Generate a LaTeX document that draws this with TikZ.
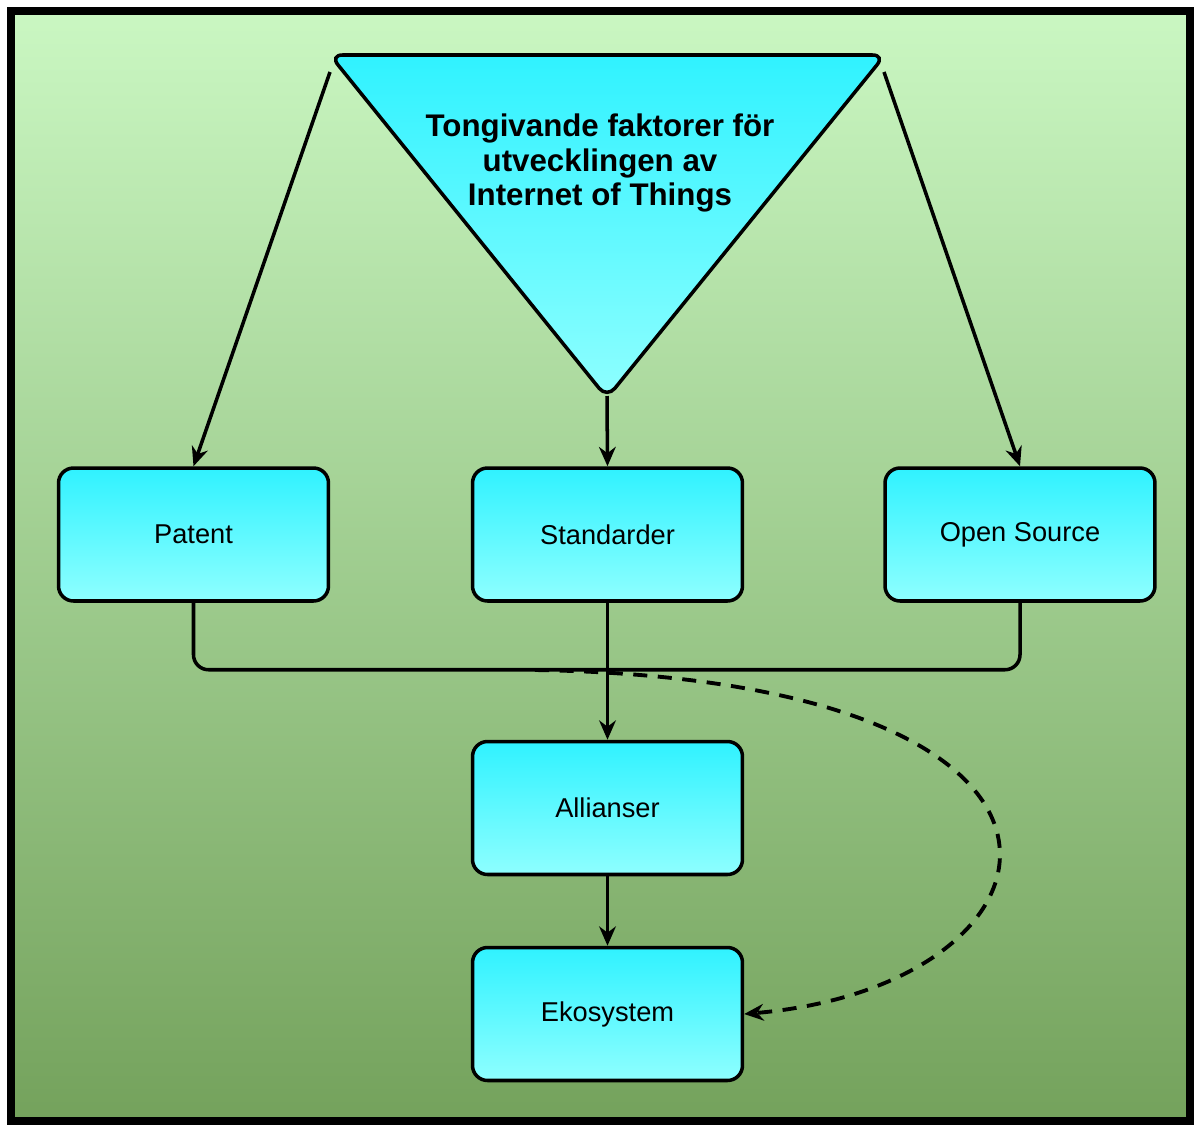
\documentclass[tikz,border=0pt]{standalone}
\usepackage{fontspec}
\setmainfont{Liberation Sans}
\usetikzlibrary{arrows.meta}

\definecolor{bgtop}{RGB}{202,247,194}
\definecolor{bgbot}{RGB}{116,162,92}
\definecolor{cyantop}{RGB}{48,242,255}
\definecolor{cyanbot}{RGB}{142,255,255}

\begin{document}
\begin{tikzpicture}[x=0.02cm, y=-0.02cm,
    box/.style={draw, line width=2pt, rounded corners=0.3cm,
      top color=cyantop, bottom color=cyanbot,
      minimum width=5.4cm, minimum height=2.66cm,
      font=\fontsize{15.5}{18}\selectfont},
    link/.style={line width=2pt, -{Stealth[length=11pt,width=9.5pt]}}]
    % frame and background
    \fill[white] (0,0) rectangle (1197,1126);
    \draw[line width=4.5pt, top color=bgtop, bottom color=bgbot] (11,11) rectangle (1190,1121);

    % the triangle
    \draw[line width=2pt, rounded corners=0.25cm, top color=cyantop, bottom color=cyanbot]
      (330,55) -- (885,55) -- (607,398) -- cycle;
    \coordinate (triL) at (330,72);
    \coordinate (triR) at (884,72);
    \coordinate (apex) at (607,396);
    \node[font=\bfseries\fontsize{17.8}{19.8}\selectfont, align=center] (title) at (600,163)
      {Tongivande faktorer för\\utvecklingen av\\Internet of Things};

    % boxes
    \node[box] (patent) at (193.5,534.5) {Patent};
    \node[box] (std) at (607.5,534.5) {Standarder};
    \node[box] (open) at (1020,534.5) {Open Source};
    \node[box] (alli) at (607.5,808) {Allianser};
    \node[box] (eko) at (607.5,1014) {Ekosystem};

    % arrows
    \draw[link] (triL) -- (patent.north);
    \draw[link] (triR) -- (open.north);
    \draw[link] (apex) -- (std.north);
    \draw[line width=2pt, rounded corners=0.3cm] (patent.south) -- ++(0,67) -| (open.south);
    \draw[link] (std.south) -- (alli.north);
    \draw[link] (alli.south) -- (eko.north);

    \coordinate (dash0) at (535,670);
    \draw[link, line width=2.2pt, dash pattern=on 8pt off 6pt] (dash0) .. controls (1150,680) and (1080,985) .. (eko.east);
\end{tikzpicture}
\end{document}
